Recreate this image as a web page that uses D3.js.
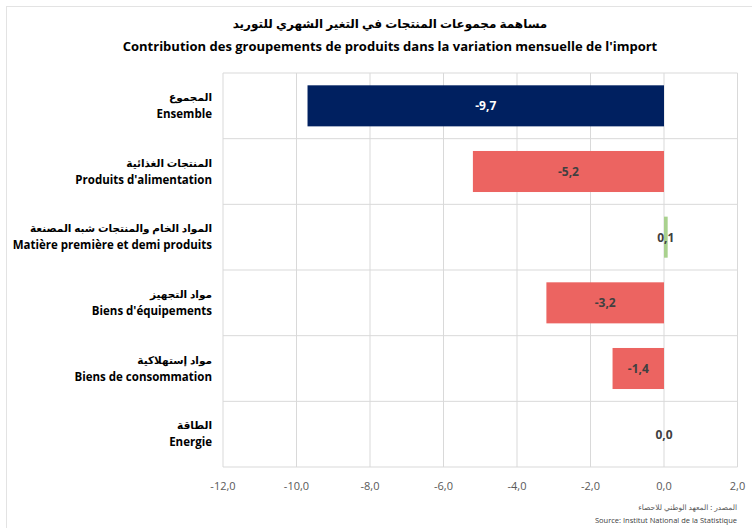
<!DOCTYPE html>
<html>
<head>
<meta charset="utf-8">
<script src="https://cdn.jsdelivr.net/npm/d3@7"></script>
<style>
body{margin:0;background:#fff;}
svg{display:block;font-family:"Open Sans","Noto Sans",sans-serif;}
</style>
</head>
<body>
<svg id="chart" width="752" height="528"></svg>
<script>
// data
var labelsAr = ["المجموع","المنتجات الغذائية","المواد الخام والمنتجات شبه المصنعة","مواد التجهيز","مواد إستهلاكية","الطاقة"];
var labelsFr = ["Ensemble","Produits d'alimentation","Matière première et demi produits","Biens d'équipements","Biens de consommation","Energie"];
var values = [-9.7,-5.2,0.1,-3.2,-1.4,0.0];
var barColors = ["#002060","#ec6461","#a9d18e","#ec6461","#ec6461","#ec6461"];
var xTicks = [-12,-10,-8,-6,-4,-2,0,2];

var svg = d3.select("#chart");
var plotL = 223, plotR = 737.5, plotT = 73, plotB = 467;

// outer frame
svg.append("rect").attr("x",6.5).attr("y",6.5).attr("width",800).attr("height",600)
	.attr("fill","none").attr("stroke","#e3e3e3");

var x = d3.scaleLinear().domain([-12,2]).range([plotL,plotR]);
var y = d3.scaleBand().domain(d3.range(values.length)).range([plotT,plotB]).paddingInner(0.375).paddingOuter(0.1875);
var rows = d3.scaleBand().domain(d3.range(values.length)).range([plotT,plotB]);

var fmt = function(v){ return d3.format(".1f")(v).replace("\u2212","-").replace(".",","); };

// grid
var g = svg.append("g");
g.selectAll("line.v").data(xTicks).enter().append("line")
	.attr("x1",function(d){return x(d);}).attr("x2",function(d){return x(d);})
	.attr("y1",plotT).attr("y2",plotB).attr("stroke","#d9d9d9");
g.selectAll("line.h").data(d3.range(values.length+1)).enter().append("line")
	.attr("x1",plotL).attr("x2",plotR)
	.attr("y1",function(d){return plotT+d*rows.bandwidth();})
	.attr("y2",function(d){return plotT+d*rows.bandwidth();})
	.attr("stroke","#d9d9d9");

// bars
svg.selectAll("rect.bar").data(values).enter().append("rect")
	.attr("class","bar")
	.attr("x",function(d){return x(Math.min(0,d));})
	.attr("y",function(d,i){return y(i);})
	.attr("width",function(d){return Math.abs(x(d)-x(0));})
	.attr("height",y.bandwidth())
	.attr("fill",function(d,i){return barColors[i];});

// value labels
svg.selectAll("text.val").data(values).enter().append("text")
	.attr("x",function(d){return (x(d)+x(0))/2;})
	.attr("y",function(d,i){return y(i)+y.bandwidth()/2+4.5;})
	.attr("text-anchor","middle")
	.attr("font-size",12).attr("font-weight","bold")
	.attr("fill",function(d,i){return i==0 ? "#ffffff" : "#404040";})
	.text(function(d){return fmt(d);});

// category labels
var cat = svg.selectAll("g.cat").data(labelsFr).enter().append("g")
	.attr("transform",function(d,i){return "translate(212,"+(rows(i)+rows.bandwidth()/2)+")";});
cat.append("text").attr("y",-5).attr("text-anchor","end")
	.attr("font-family","'Noto Sans','DejaVu Sans',sans-serif")
	.attr("font-size",10.5).attr("font-weight","bold").attr("fill","#000")
	.text(function(d,i){return labelsAr[i];});
cat.append("text").attr("y",12).attr("text-anchor","end")
	.attr("font-size",11.5).attr("font-weight","bold").attr("fill","#000")
	.text(function(d){return d;});

// x axis labels
svg.selectAll("text.tick").data(xTicks).enter().append("text")
	.attr("x",function(d){return x(d);}).attr("y",490)
	.attr("text-anchor","middle").attr("font-size",11).attr("fill","#595959")
	.text(function(d){return fmt(d);});

// titles
svg.append("text").attr("x",390).attr("y",28).attr("text-anchor","middle")
	.attr("font-family","'Noto Sans','DejaVu Sans',sans-serif")
	.attr("font-size",12).attr("font-weight","bold").text("مساهمة مجموعات المنتجات في التغير الشهري للتوريد");
svg.append("text").attr("x",390).attr("y",51).attr("text-anchor","middle")
	.attr("font-size",13).attr("font-weight","bold")
	.text("Contribution des groupements de produits dans la variation mensuelle de l'import");

// source
svg.append("text").attr("x",737).attr("y",510).attr("text-anchor","end")
	.attr("font-family","'Noto Sans','DejaVu Sans',sans-serif")
	.attr("font-size",7.5).attr("fill","#595959").text("المصدر : المعهد الوطني للاحصاء");
svg.append("text").attr("x",737).attr("y",523).attr("text-anchor","end")
	.attr("font-size",7.5).attr("fill","#404040").text("Source: Institut National de la Statistique");
</script>
</body>
</html>
